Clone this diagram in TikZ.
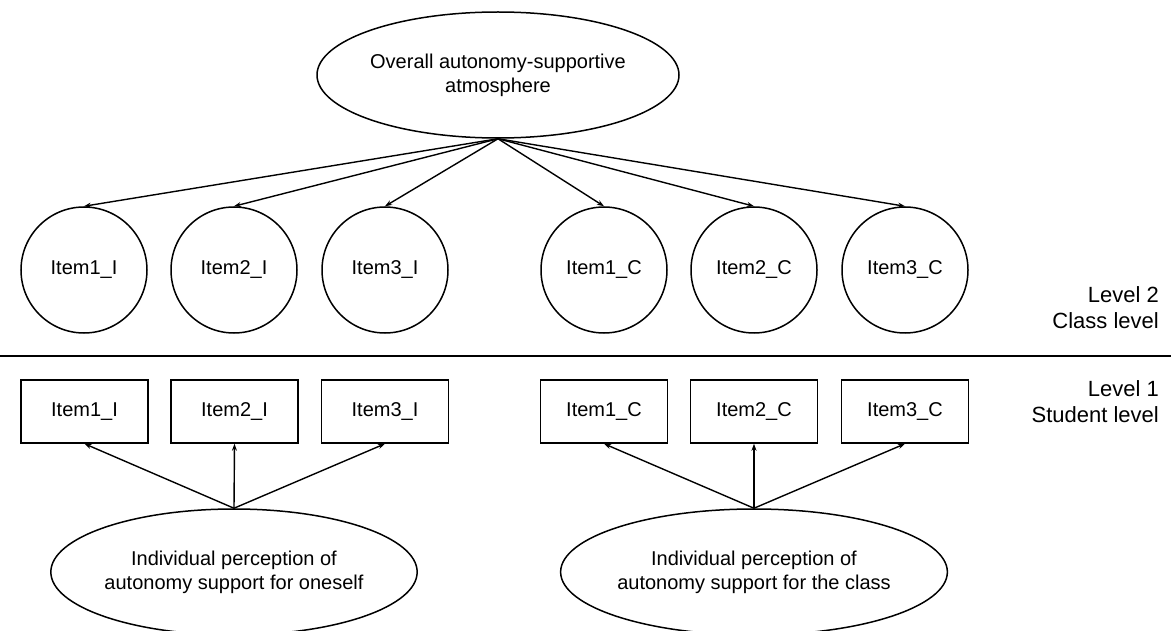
\documentclass[tikz,border=0pt]{standalone}
\usepackage{fontspec}
\setmainfont{Liberation Sans}
\usetikzlibrary{shapes.geometric}
\usetikzlibrary{arrows.meta}

\newcommand{\lvlab}[2]{#1\\#2}

\begin{document}
\begin{tikzpicture}[x=1pt,y=-1pt,
  every node/.style={font=\fontsize{20pt}{24pt}\selectfont},
  factor/.style={ellipse,draw=black,line width=1.5pt,minimum width=362pt,
                 minimum height=126pt,align=center,inner sep=0pt},
  classitem/.style={circle,draw=black,line width=1.5pt,minimum size=126pt,inner sep=0pt},
  studitem/.style={rectangle,draw=black,line width=1.5pt,minimum width=127pt,
                   minimum height=63pt,inner sep=0pt},
  load/.style={-{Stealth[length=7pt,width=5pt]},draw=black,line width=1.4pt},
  levelnote/.style={anchor=east,align=right,inner sep=0pt,
                    font=\fontsize{22pt}{26pt}\selectfont}]

 \useasboundingbox (0,0) rectangle (1171,631);

 \draw (498,75)  node[factor] (B) {Overall autonomy-supportive\\atmosphere};

 \draw (84,270)  node[classitem] (CI1) {Item1\_I};
 \draw (234,270) node[classitem] (CI2) {Item2\_I};
 \draw (385,270) node[classitem] (CI3) {Item3\_I};
 \draw (604,270) node[classitem] (CC1) {Item1\_C};
 \draw (754,270) node[classitem] (CC2) {Item2\_C};
 \draw (905,270) node[classitem] (CC3) {Item3\_C};

 \draw (84.5,411.5) node[studitem] (SI1) {Item1\_I};
 \draw (234.5,411.5) node[studitem] (SI2) {Item2\_I};
 \draw (385,411.5) node[studitem] (SI3) {Item3\_I};
 \draw (604,411.5) node[studitem] (SC1) {Item1\_C};
 \draw (754,411.5) node[studitem] (SC2) {Item2\_C};
 \draw (905,411.5) node[studitem] (SC3) {Item3\_C};

 \draw (234,572) node[factor] (WI) {Individual perception of\\autonomy support for oneself};
 \draw (754,572) node[factor] (WC) {Individual perception of\\autonomy support for the class};

 \draw (1159,308) node[levelnote] (L2) {\lvlab{Level 2}{Class level}};
 \draw (1159,402) node[levelnote] (L1) {\lvlab{Level 1}{Student level}};

 \draw[line width=1.6pt] (0,356) -- (1171,356);

 \draw[load] (B.south) -- (CI1.north);
 \draw[load] (B.south) -- (CI2.north);
 \draw[load] (B.south) -- (CI3.north);
 \draw[load] (B.south) -- (CC1.north);
 \draw[load] (B.south) -- (CC2.north);
 \draw[load] (B.south) -- (CC3.north);

 \draw[load] (WI.north) -- (SI1.south);
 \draw[load] (WI.north) -- (SI2.south);
 \draw[load] (WI.north) -- (SI3.south);
 \draw[load] (WC.north) -- (SC1.south);
 \draw[load] (WC.north) -- (SC2.south);
 \draw[load] (WC.north) -- (SC3.south);

\end{tikzpicture}
\end{document}
